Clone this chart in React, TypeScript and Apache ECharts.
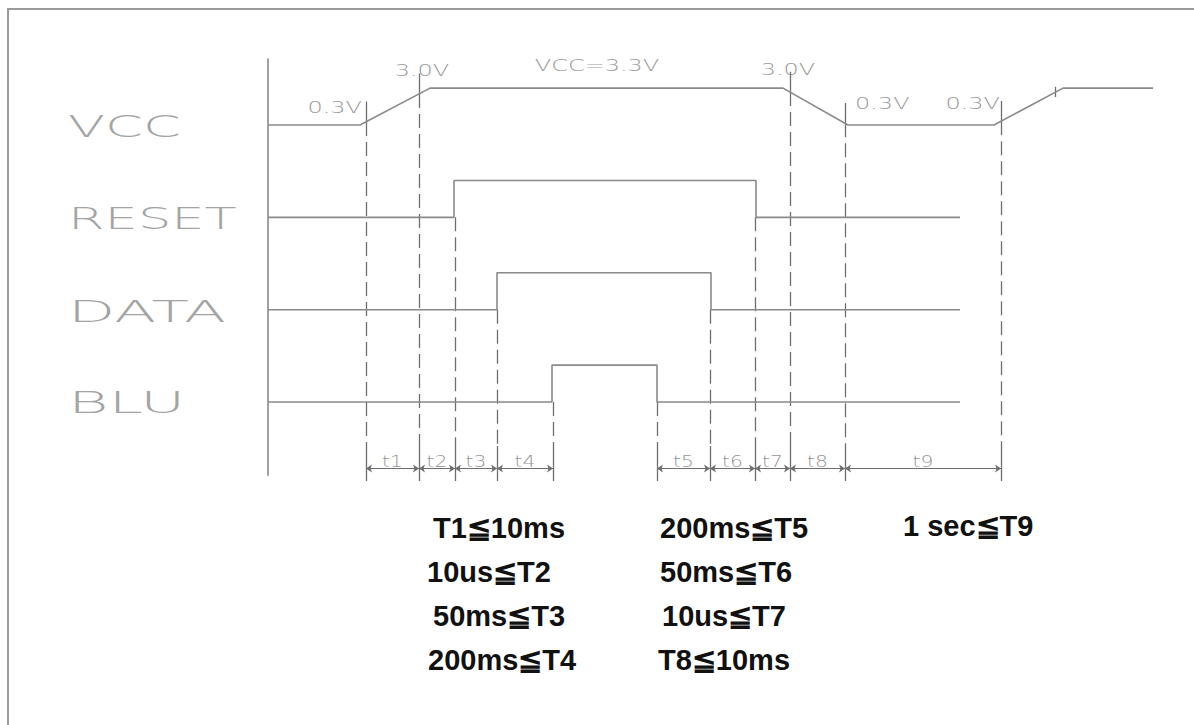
import React, { useEffect, useRef } from "react";
import * as echarts from "echarts";

// ---- data (time units, lanes) ----
const laneNames = ["VCC", "RESET", "DATA", "BLU"];
const laneBase = [3, 2, 1, 0];
const highLevel = 0.4;
const vccMax = 3.3;
const vccTimes = [0, 92, 162, 515, 580, 726, 795, 885];
const vccVolts = [0, 0, 3.3, 3.3, 0, 0, 3.3, 3.3];
const resetEdges = [186, 488];
const dataEdges = [229, 443];
const bluEdges = [284, 389];
const traceEnd = 692;
const boundaries = [98, 151, 187, 229, 285, 389, 442, 487, 522, 577, 733];
const boundaryFrom = ["VCC", "VCC", "RESET", "DATA", "BLU", "BLU", "DATA", "RESET", "VCC", "VCC", "VCC"];
const extraVccTicks = [787];
const tNames = ["t1", "t2", "t3", "t4", "t5", "t6", "t7", "t8", "t9"];
const tStart = [98, 151, 187, 229, 389, 442, 487, 522, 577];
const tEnd = [151, 187, 229, 285, 442, 487, 522, 577, 733];
const voltageLabels = ["0.3V", "3.0V", "VCC=3.3V", "3.0V", "0.3V", "0.3V"];
const specTexts = [
  "T1≦10ms",
  "10us≦T2",
  "50ms≦T3",
  "200ms≦T4",
  "200ms≦T5",
  "50ms≦T6",
  "10us≦T7",
  "T8≦10ms",
  "1 sec≦T9",
];

// ---- helpers ----
function vccY(t: number): number {
  for (let i = 0; i < vccTimes.length - 1; i++) {
    const a = vccTimes[i];
    const b = vccTimes[i + 1];
    if (t >= a && t <= b) {
      const v = b === a ? vccVolts[i] : vccVolts[i] + ((t - a) / (b - a)) * (vccVolts[i + 1] - vccVolts[i]);
      return laneBase[0] + (v / vccMax) * highLevel;
    }
  }
  return laneBase[0];
}

function stepTrace(base: number, edges: number[], end: number): number[][] {
  const pts: number[][] = [[0, base]];
  let level = 0;
  for (const e of edges) {
    pts.push([e, base + level * highLevel]);
    level = 1 - level;
    pts.push([e, base + level * highLevel]);
  }
  pts.push([end, base + level * highLevel]);
  return pts;
}

const LINE = "#8a8a8a";
const DASH = "#6e6e6e";

export default function App() {
  const ref = useRef<HTMLDivElement>(null);

  useEffect(() => {
    if (!ref.current) return;
    const chart = echarts.init(ref.current, null, { renderer: "svg" });

    const vccData = vccTimes.map((t, i) => [t, laneBase[0] + (vccVolts[i] / vccMax) * highLevel]);
    const traces = [
      vccData,
      stepTrace(laneBase[1], resetEdges, traceEnd),
      stepTrace(laneBase[2], dataEdges, traceEnd),
      stepTrace(laneBase[3], bluEdges, traceEnd),
    ];

    const dashEndY = -0.477;
    const tickBottomY = -0.856;
    const dimY = -0.72;
    const tLabelY = -0.64;

    const dashData = boundaries.map((b, i) => {
      const from = boundaryFrom[i];
      const top = from === "VCC" ? vccY(b) : laneBase[laneNames.indexOf(from)];
      return { coords: [[b, top], [b, dashEndY]] };
    });
    const solidTicks: any[] = [];
    boundaries.forEach((b, i) => {
      if (boundaryFrom[i] === "VCC") {
        const y = vccY(b);
        solidTicks.push({ coords: [[b, y + 0.22], [b, y]] });
      }
      solidTicks.push({ coords: [[b, dashEndY], [b, tickBottomY]] });
    });
    extraVccTicks.forEach((t) => {
      const y = vccY(t);
      solidTicks.push({ coords: [[t, y + 0.06], [t, y - 0.05]] });
    });
    const dimData = tStart.map((s, i) => ({ coords: [[s, dimY], [tEnd[i], dimY]] }));

    const series: any[] = [
      {
        type: "line",
        data: [[0, 3.72], [0, -0.8]],
        symbol: "none",
        lineStyle: { color: LINE, width: 1.6 },
        silent: true,
      },
      ...traces.map((d) => ({
        type: "line",
        data: d,
        symbol: "none",
        lineStyle: { color: LINE, width: 1.6 },
        silent: true,
      })),
      {
        type: "lines",
        coordinateSystem: "cartesian2d",
        data: dashData,
        lineStyle: { color: DASH, width: 1.3, type: [14, 6], opacity: 1 },
        silent: true,
      },
      {
        type: "lines",
        coordinateSystem: "cartesian2d",
        data: solidTicks,
        lineStyle: { color: DASH, width: 1.3, opacity: 1 },
        silent: true,
      },
      {
        type: "lines",
        coordinateSystem: "cartesian2d",
        data: dimData,
        symbol: ["arrow", "arrow"],
        symbolSize: 6,
        lineStyle: { color: DASH, width: 1.1, opacity: 1 },
        silent: true,
      },
    ];

    chart.setOption({
      animation: false,
      backgroundColor: "#ffffff",
      grid: { left: 268, top: 55.8, width: 900, height: 429.3 },
      xAxis: { type: "value", min: 0, max: 900, show: false },
      yAxis: { type: "value", min: -0.9, max: 3.75, show: false },
      series,
    });

    const px = (x: number, y: number) => chart.convertToPixel({ gridIndex: 0 }, [x, y]) as number[];

    const cadText = (text: string, x: number, y: number, size: number, align: string, sx: number, color: string) => ({
      type: "text",
      x,
      y,
      scaleX: sx,
      silent: true,
      style: {
        text,
        fill: color,
        fontSize: size,
        fontFamily: "DejaVu Sans",
        fontWeight: 200,
        align,
        verticalAlign: "middle",
        textAlign: align,
        textVerticalAlign: "middle",
      },
    });

    const graphics: any[] = [
      {
        type: "rect",
        shape: { x: 8, y: 9, width: 1300, height: 800 },
        style: { fill: "none", stroke: "#9a9a9a", lineWidth: 2 },
        silent: true,
        z: -1,
      },
    ];

    const laneScale = [1.75, 1.7, 1.98, 2.0];
    laneNames.forEach((name, i) => {
      const p = px(0, laneBase[i]);
      graphics.push(cadText(name, 68, p[1] + 1, 31, "left", laneScale[i], "#a4a4a4"));
    });

    const voltPos = [
      [362, 108, "right"],
      [422, 71, "center"],
      [597, 66, "center"],
      [788, 70, "center"],
      [855, 104, "left"],
      [1000, 104, "right"],
    ];
    voltageLabels.forEach((t, i) => {
      const [x, y, a] = voltPos[i] as any;
      graphics.push(cadText(t, x, y, 16, a, 1.5, "#9a9a9a"));
    });

    tNames.forEach((t, i) => {
      const p = px((tStart[i] + tEnd[i]) / 2, tLabelY);
      graphics.push(cadText(t, p[0], p[1], 15, "center", 1.35, "#959595"));
    });

    const specPos = [
      [433, 528],
      [427, 572],
      [433, 616],
      [428, 660],
      [660, 528],
      [660, 572],
      [662, 616],
      [658, 660],
      [903, 526],
    ];
    specTexts.forEach((t, i) => {
      graphics.push({
        type: "text",
        x: specPos[i][0],
        y: specPos[i][1],
        silent: true,
        style: {
          text: t,
          fill: "#111111",
          fontSize: 29,
          fontFamily: "Liberation Sans, Arial, sans-serif",
          fontWeight: "bold",
          align: "left",
          verticalAlign: "middle",
          textAlign: "left",
          textVerticalAlign: "middle",
        },
      });
    });

    chart.setOption({ graphic: graphics });

    return () => chart.dispose();
  }, []);

  return (
    <div
      ref={ref}
      style={{ position: "fixed", left: 0, top: 0, width: 1194, height: 725, background: "#fff" }}
    />
  );
}
